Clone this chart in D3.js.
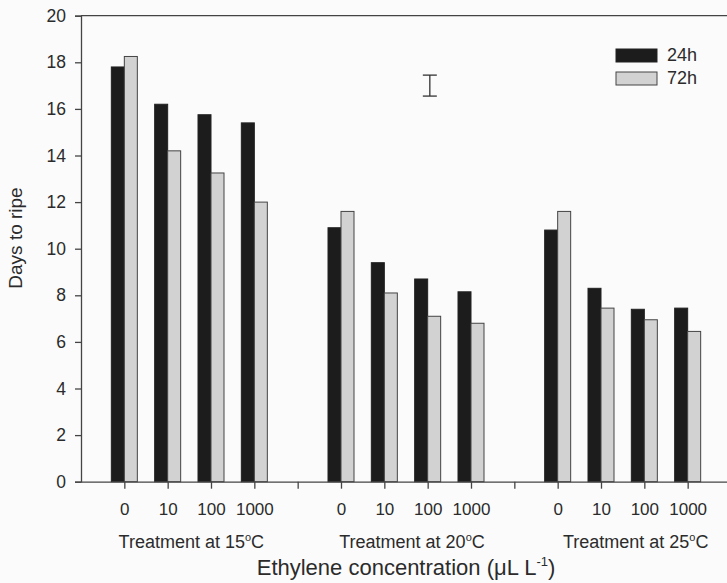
<!DOCTYPE html>
<html>
<head>
<meta charset="utf-8">
<script src="https://cdn.jsdelivr.net/npm/d3@7"></script>
<style>
  html, body { margin: 0; padding: 0; background: #fbfbfb; }
  svg { display: block; }
  text { font-family: "Liberation Sans", Arial, sans-serif; fill: #2b2b2b; }
</style>
</head>
<body>
<svg id="chart" width="727" height="583"></svg>
<script>
// Days to ripe after ethylene treatment, by temperature and exposure time
const groups = ["Treatment at 15", "Treatment at 20", "Treatment at 25"];
const concentrations = ["0", "10", "100", "1000"];
const series = ["24h", "72h"];
const values24h = [17.8, 16.2, 15.75, 15.4, 10.9, 9.4, 8.7, 8.15, 10.8, 8.3, 7.4, 7.45];
const values72h = [18.25, 14.2, 13.25, 12.0, 11.6, 8.1, 7.1, 6.8, 11.6, 7.45, 6.95, 6.45];
const yTicks = [0, 2, 4, 6, 8, 10, 12, 14, 16, 18, 20];
// LSD-style error bar shown above the bars
const errorBar = { slot: 7.05, low: 16.55, high: 17.45 };

const svg = d3.select("#chart");
const x = d3.scaleLinear().domain([-1, 14]).range([81, 731]);
const y = d3.scaleLinear().domain([0, 20]).range([481.7, 15.7]);
const barW = 0.3;
const axisColor = "#444";
const fontFamily = "'Liberation Sans', Arial, sans-serif";

// slot index of each bar: groups separated by an empty slot
const rows = [];
groups.forEach((g, gi) => {
  concentrations.forEach((c, ci) => {
    const k = gi * concentrations.length + ci;
    rows.push({ slot: gi * 5 + ci, v24: values24h[k], v72: values72h[k], conc: c });
  });
});

// bars
const barG = svg.append("g");
barG.selectAll("rect.d").data(rows).join("rect")
  .attr("x", d => x(d.slot - barW))
  .attr("width", d => x(d.slot) - x(d.slot - barW))
  .attr("y", d => y(d.v24))
  .attr("height", d => y(0) - y(d.v24))
  .attr("fill", "#1c1c1c")
  .attr("stroke", "#222").attr("stroke-width", 1);
barG.selectAll("rect.l").data(rows).join("rect")
  .attr("x", d => x(d.slot))
  .attr("width", d => x(d.slot + barW) - x(d.slot))
  .attr("y", d => y(d.v72))
  .attr("height", d => y(0) - y(d.v72))
  .attr("fill", "#d2d2d2")
  .attr("stroke", "#444").attr("stroke-width", 1);

// y axis
const yAxis = svg.append("g").attr("transform", `translate(${x(-1)},0)`)
  .call(d3.axisLeft(y).tickValues(yTicks).tickSize(6).tickPadding(9).tickFormat(d3.format("d")));
yAxis.select(".domain").attr("stroke", axisColor).attr("stroke-width", 1.3);
yAxis.selectAll(".tick line").attr("stroke", axisColor).attr("stroke-width", 1.3);
yAxis.selectAll(".tick text").style("font-size", "17.5px").attr("fill", "#2b2b2b")
  .style("font-family", fontFamily);

// x axis: ticks at each concentration and at the group separators
const tickSlots = rows.map(r => r.slot);
const sepSlots = [4, 9];
const xAxis = svg.append("g").attr("transform", `translate(0,${y(0)})`)
  .call(d3.axisBottom(x).tickValues(tickSlots.concat(sepSlots)).tickSize(7).tickSizeOuter(0)
    .tickFormat(s => { const r = rows.find(q => q.slot === s); return r ? r.conc : ""; }).tickPadding(14));
xAxis.select(".domain").attr("stroke", axisColor).attr("stroke-width", 1.3);
xAxis.selectAll(".tick line").attr("stroke", axisColor).attr("stroke-width", 1.3);
xAxis.selectAll(".tick text").style("font-size", "17px").attr("fill", "#2b2b2b")
  .style("font-family", fontFamily);

// top frame line
svg.append("line").attr("x1", x(-1)).attr("x2", x(14)).attr("y1", y(20)).attr("y2", y(20))
  .attr("stroke", axisColor).attr("stroke-width", 1.3);

// group labels with degree sign
const groupShift = [2, 6, 13];
groups.forEach((g, gi) => {
  const cx = (x(gi * 5) + x(gi * 5 + 3)) / 2 + groupShift[gi];
  const t = svg.append("text").attr("x", cx).attr("y", 548).attr("text-anchor", "middle")
    .style("font-size", "18px");
  t.append("tspan").text(g);
  t.append("tspan").text("o").attr("dy", -7).style("font-size", "11px");
  t.append("tspan").text("C").attr("dy", 7);
});

// axis titles
const xt = svg.append("text").attr("x", 406).attr("y", 575).attr("text-anchor", "middle")
  .style("font-size", "22px");
xt.append("tspan").text("Ethylene concentration (\u03bcL L");
xt.append("tspan").text("-1").attr("dy", -9).style("font-size", "13px");
xt.append("tspan").text(")").attr("dy", 9);

svg.append("text").attr("transform", "translate(22,238) rotate(-90)")
  .attr("text-anchor", "middle").style("font-size", "19px").text("Days to ripe");

// error bar
const eb = svg.append("g").attr("stroke", "#333").attr("stroke-width", 1.3);
eb.append("line").attr("x1", x(errorBar.slot)).attr("x2", x(errorBar.slot))
  .attr("y1", y(errorBar.high)).attr("y2", y(errorBar.low));
[errorBar.high, errorBar.low].forEach(v => {
  eb.append("line").attr("x1", x(errorBar.slot) - 7).attr("x2", x(errorBar.slot) + 7)
    .attr("y1", y(v)).attr("y2", y(v));
});

// legend
const legend = svg.append("g");
const legendFill = ["#1c1c1c", "#d2d2d2"];
const legendStroke = ["#222", "#444"];
series.forEach((s, i) => {
  legend.append("rect").attr("x", 616).attr("y", 49 + i * 23).attr("width", 41).attr("height", 13)
    .attr("fill", legendFill[i]).attr("stroke", legendStroke[i]).attr("stroke-width", 1);
  legend.append("text").attr("x", 667).attr("y", 61 + i * 23).style("font-size", "18px").text(s);
});
</script>
</body>
</html>
